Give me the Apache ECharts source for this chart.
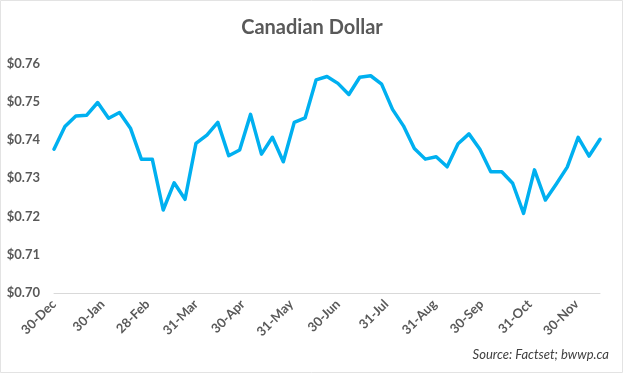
<!DOCTYPE html>
<html>
<head>
<meta charset="utf-8">
<script src="https://cdn.jsdelivr.net/npm/echarts@6/dist/echarts.min.js"></script>
<style>
html,body{margin:0;padding:0;background:#fff;}
#chart{width:624px;height:374px;}
</style>
</head>
<body>
<div id="chart"></div>
<script>
var dates = ['2022-12-30','2023-01-06','2023-01-13','2023-01-20','2023-01-27','2023-02-03','2023-02-10','2023-02-17','2023-02-24','2023-03-03','2023-03-10','2023-03-17','2023-03-24','2023-03-31','2023-04-07','2023-04-14','2023-04-21','2023-04-28','2023-05-05','2023-05-12','2023-05-19','2023-05-26','2023-06-02','2023-06-09','2023-06-16','2023-06-23','2023-06-30','2023-07-07','2023-07-14','2023-07-21','2023-07-28','2023-08-04','2023-08-11','2023-08-18','2023-08-25','2023-09-01','2023-09-08','2023-09-15','2023-09-22','2023-09-29','2023-10-06','2023-10-13','2023-10-20','2023-10-27','2023-11-03','2023-11-10','2023-11-17','2023-11-24','2023-12-01','2023-12-08','2023-12-15'];
var cad = [0.7376,0.7435,0.7463,0.7465,0.7498,0.7457,0.7472,0.7431,0.7350,0.7350,0.7217,0.7288,0.7245,0.7391,0.7413,0.7446,0.7359,0.7374,0.7467,0.7363,0.7407,0.7343,0.7446,0.7458,0.7557,0.7566,0.7548,0.7519,0.7564,0.7568,0.7546,0.7480,0.7437,0.7378,0.7350,0.7356,0.7330,0.7390,0.7416,0.7376,0.7317,0.7317,0.7287,0.7208,0.7322,0.7243,0.7285,0.7329,0.7407,0.7358,0.7402];
var tickDates = ['2022-12-30','2023-01-30','2023-02-28','2023-03-31','2023-04-30','2023-05-31','2023-06-30','2023-07-31','2023-08-31','2023-09-30','2023-10-31','2023-11-30'];
var tickLabels = ['30-Dec','30-Jan','28-Feb','31-Mar','30-Apr','31-May','30-Jun','31-Jul','31-Aug','30-Sep','31-Oct','30-Nov'];
var yTicks = [0.70,0.71,0.72,0.73,0.74,0.75,0.76];

var DAY = 86400000;
function dayNum(s){var p=s.split('-');return Math.round(Date.UTC(+p[0],+p[1]-1,+p[2])/DAY);}
var x0 = dayNum(dates[0]);
var tickX = tickDates.map(function(d){return dayNum(d)-x0;});
var seriesData = dates.map(function(d,i){return [dayNum(d)-x0, cad[i]];});

var chart = echarts.init(document.getElementById('chart'), null, {renderer:'canvas'});
chart.setOption({
  backgroundColor:'#ffffff',
  animation:false,
  title:{
    text:'Canadian Dollar',
    left:'center', top:13,
    textStyle:{fontFamily:'Lato', fontSize:20, fontWeight:'bold', color:'#595959'}
  },
  graphic:[
    {type:'text', right:15, top:348, style:{text:'Source: Factset; bwwp.ca', font:'italic 13px Lato', fill:'#404040'}},
    {type:'rect', shape:{x:0.5,y:0.5,width:622,height:372}, style:{fill:null, stroke:'#e3e3e3', lineWidth:1}, silent:true}
  ],
  grid:{left:54, right:24, top:63.5, bottom:81, containLabel:false, outerBoundsMode:'none'},
  xAxis:{
    type:'value',
    min:0, max:dayNum(dates[dates.length-1])-x0,
    axisLine:{show:true, onZero:false, lineStyle:{color:'#d9d9d9', width:1}},
    axisTick:{show:false},
    splitLine:{show:false},
    axisLabel:{
      customValues:tickX,
      rotate:45, margin:9,
      fontFamily:'Lato', fontSize:13, fontWeight:'bold', color:'#595959',
      showMinLabel:true, showMaxLabel:true, hideOverlap:false,
      formatter:function(v){
        var i = tickX.indexOf(Math.round(v));
        return i>=0 ? tickLabels[i] : '';
      }
    }
  },
  yAxis:{
    type:'value',
    min:yTicks[0], max:yTicks[yTicks.length-1], interval:0.01,
    axisLine:{show:false}, axisTick:{show:false},
    splitLine:{show:false},
    axisLabel:{
      margin:14,
      fontFamily:'Lato', fontSize:13, fontWeight:'bold', color:'#595959',
      formatter:function(v){return '$'+v.toFixed(2);}
    }
  },
  series:[{
    type:'line',
    data:seriesData,
    showSymbol:false,
    symbol:'none',
    lineStyle:{color:'#00B0F0', width:3.5, join:'round', cap:'round'},
    itemStyle:{color:'#00B0F0'}
  }]
});
</script>
</body>
</html>
